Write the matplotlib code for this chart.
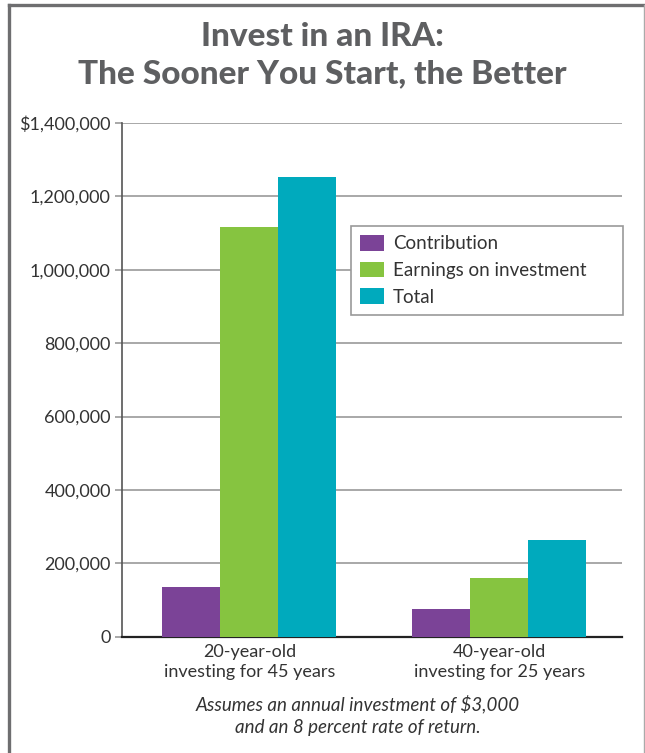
import matplotlib.pyplot as plt
import numpy as np
from matplotlib.lines import Line2D
from matplotlib.ticker import FuncFormatter

# data
groups = ["20-year-old\ninvesting for 45 years", "40-year-old\ninvesting for 25 years"]
series = ["Contribution", "Earnings on investment", "Total"]
contribution = [135000, 75000]
earnings = [1118000, 161000]
total = [1253000, 263000]
colors = ["#7B4397", "#86C440", "#00AABD"]
yticks = [0, 200000, 400000, 600000, 800000, 1000000, 1200000, 1400000]

plt.rcParams['font.family'] = ['Lato', 'DejaVu Sans']

fig = plt.figure(figsize=(6.45, 7.53), dpi=100)
ax = fig.add_axes([0.189, 0.1545, 0.775, 0.682])

x = np.arange(len(groups))
w = 0.232
for i, (vals, name) in enumerate(zip([contribution, earnings, total], series)):
    ax.bar(x + (i - 1) * w, vals, width=w, color=colors[i], label=name, zorder=3)

ax.set_xlim(-0.51, 1.49)
ax.set_ylim(0, 1400000)
ax.set_yticks(yticks)
ax.yaxis.set_major_formatter(FuncFormatter(
    lambda v, p: "$1,400,000" if v == 1400000 else ("0" if v == 0 else f"{int(v):,}")))
ax.set_xticks(x)
ax.set_xticklabels(groups, fontsize=13, color="#333333", linespacing=1.3)
ax.tick_params(axis='y', labelsize=13, labelcolor="#333333", length=5, color="#999999", width=1.2, pad=3)
ax.tick_params(axis='x', length=0, pad=5)

ax.grid(axis='y', color="#999999", linewidth=1.2, zorder=0)
for s in ['top', 'right']:
    ax.spines[s].set_visible(False)
ax.spines['left'].set_color("#555555")
ax.spines['left'].set_linewidth(1.2)
ax.spines['bottom'].set_color("#222222")
ax.spines['bottom'].set_linewidth(1.6)

leg = ax.legend(loc='upper left', bbox_to_anchor=(0.458, 0.0, 0.544, 0.80), mode='expand',
                fontsize=13.5, frameon=True, fancybox=False, edgecolor="#999999", framealpha=1,
                handlelength=1.28, handleheight=0.9, handletextpad=0.45,
                labelspacing=0.5, borderpad=0.5, borderaxespad=0)
leg.get_frame().set_linewidth(1.2)
for t in leg.get_texts():
    t.set_color("#333333")

fig.text(0.5, 0.952, "Invest in an IRA:", ha='center', va='center', fontsize=24,
         fontweight='black', color="#5E5F61")
fig.text(0.5, 0.902, "The Sooner You Start, the Better", ha='center', va='center', fontsize=24,
         fontweight='black', color="#5E5F61")

fig.text(0.555, 0.0505, "Assumes an annual investment of $3,000\nand an 8 percent rate of return.",
         ha='center', va='center', fontsize=13.5, style='italic', color="#333333", linespacing=1.4)

# outer frame (left, top, right)
fig.add_artist(Line2D([0.0132, 0.0132], [0, 0.9934], color="#6E6E70", linewidth=2.4, transform=fig.transFigure))
fig.add_artist(Line2D([0.0132, 1.0], [0.9934, 0.9934], color="#6E6E70", linewidth=2.4, transform=fig.transFigure))
fig.add_artist(Line2D([0.9977, 0.9977], [0, 0.9934], color="#AAAAAA", linewidth=1.0, transform=fig.transFigure))

fig.savefig("out.png", dpi=100)
